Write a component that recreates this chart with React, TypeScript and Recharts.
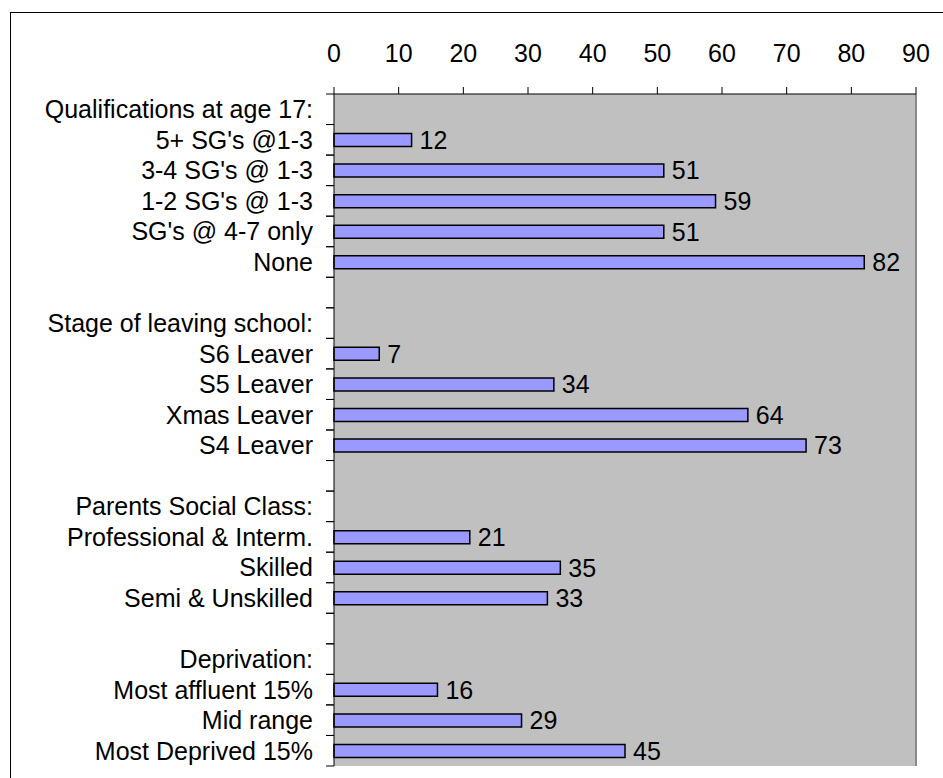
import React from 'react';
import {
    BarChart,
    Bar,
    XAxis,
    YAxis,
    CartesianGrid,
    ReferenceLine,
    LabelList,
} from 'recharts';

const categories = [
    'Qualifications at age 17:',
    "5+ SG's @1-3",
    "3-4 SG's @ 1-3",
    "1-2 SG's @ 1-3",
    "SG's @ 4-7 only",
    'None',
    '',
    'Stage of leaving school:',
    'S6 Leaver',
    'S5 Leaver',
    'Xmas Leaver',
    'S4 Leaver',
    '',
    'Parents Social Class:',
    'Professional & Interm.',
    'Skilled',
    'Semi & Unskilled',
    '',
    'Deprivation:',
    'Most affluent 15%',
    'Mid range',
    'Most Deprived 15%',
];

const values: (number | null)[] = [
    null, 12, 51, 59, 51, 82,
    null,
    null, 7, 34, 64, 73,
    null,
    null, 21, 35, 33,
    null,
    null, 16, 29, 45,
];

const xTicks = [0, 10, 20, 30, 40, 50, 60, 70, 80, 90];

const data = categories.map((name, i) => ({ name, value: values[i] }));

const FONT = 'Liberation Sans, Arial, sans-serif';
const FONT_SIZE = 25;
const PLOT_TOP = 94;
const PLOT_BOTTOM = 766;
const BAND = (PLOT_BOTTOM - PLOT_TOP) / categories.length;

const TopTick = (props: any) => {
    const { x, y, payload } = props;
    return (
        <text x={x} y={y} textAnchor="middle" fontFamily={FONT} fontSize={FONT_SIZE} fill="#000">
            {payload.value}
        </text>
    );
};

const LeftTick = (props: any) => {
    const { x, y, payload } = props;
    return (
        <g>
            <line x1={x - 8} x2={x} y1={y - BAND / 2} y2={y - BAND / 2} stroke="#000" />
            <line x1={x - 8} x2={x} y1={y + BAND / 2} y2={y + BAND / 2} stroke="#000" />
            <text x={x - 21} y={y} dy="0.36em" textAnchor="end" fontFamily={FONT} fontSize={FONT_SIZE} fill="#000">
                {payload.value}
            </text>
        </g>
    );
};

export default function App() {
    return (
        <div style={{ position: 'absolute', left: 0, top: 0, width: 943, height: 778, background: '#fff', overflow: 'hidden' }}>
            <div
                style={{
                    position: 'absolute',
                    left: 10,
                    top: 12,
                    width: 960,
                    height: 800,
                    borderTop: '1.5px solid #000',
                    borderLeft: '1.5px solid #000',
                }}
            />
            <div style={{ position: 'absolute', left: 0, top: 0 }}>
                <BarChart
                    width={943}
                    height={778}
                    data={data}
                    layout="vertical"
                    margin={{ top: 12, right: 27, left: 0, bottom: 12 }}
                    barCategoryGap={0}
                >
                    <CartesianGrid fill="#C0C0C0" horizontal={false} vertical={false} />
                    <XAxis
                        type="number"
                        orientation="top"
                        domain={[0, 90]}
                        ticks={xTicks}
                        height={82}
                        tickSize={7}
                        tickMargin={25}
                        axisLine={{ stroke: '#000' }}
                        tickLine={{ stroke: '#000' }}
                        tick={<TopTick />}
                        interval={0}
                    />
                    <XAxis
                        xAxisId="bottom"
                        type="number"
                        orientation="bottom"
                        domain={[0, 90]}
                        height={0}
                        tick={false}
                        tickLine={false}
                        axisLine={{ stroke: '#8a8a8a', strokeWidth: 2 }}
                    />
                    <YAxis
                        type="category"
                        dataKey="name"
                        width={334}
                        tickSize={0}
                        tickMargin={0}
                        tickLine={false}
                        axisLine={{ stroke: '#000' }}
                        tick={<LeftTick />}
                        interval={0}
                    />
                    <ReferenceLine x={90} stroke="#8a8a8a" strokeWidth={2} />
                    <Bar
                        dataKey="value"
                        fill="#9999FF"
                        stroke="#000"
                        strokeWidth={1.5}
                        barSize={13}
                        isAnimationActive={false}
                    >
                        <LabelList
                            dataKey="value"
                            position="right"
                            offset={8}
                            fontFamily={FONT}
                            fontSize={FONT_SIZE}
                            fill="#000"
                            formatter={(v: any) => (v == null ? '' : v)}
                        />
                    </Bar>
                </BarChart>
            </div>
        </div>
    );
}
